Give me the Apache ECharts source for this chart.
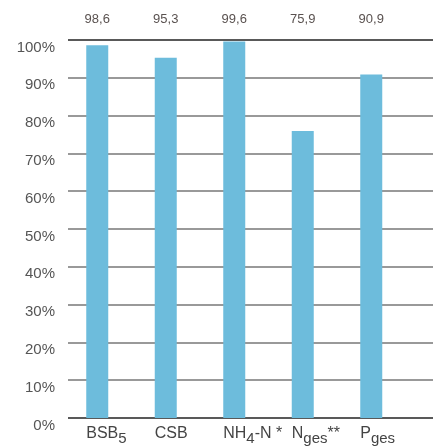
<!DOCTYPE html>
<html>
<head>
<meta charset="utf-8">
<script src="https://cdn.jsdelivr.net/npm/echarts@6/dist/echarts.min.js"></script>
<style>
  html, body { margin: 0; padding: 0; background: #fff; }
  #chart { width: 433px; height: 447px; }
</style>
</head>
<body>
<div id="chart"></div>
<script>
  // Kategorien (rich text für Indizes)
  var categories = ['{a|BSB}{s|5}', '{a|CSB}', '{a|NH}{s|4}{a|-N *}', '{a|N}{s|ges}{a|**}', '{a|P}{s|ges}'];
  var values = [98.6, 95.3, 99.6, 75.9, 90.9];
  var valueLabels = values.map(function (v) { return v.toFixed(1).replace('.', ','); });
  var yTicks = [0, 10, 20, 30, 40, 50, 60, 70, 80, 90, 100];

  var chart = echarts.init(document.getElementById('chart'));

  var rich = {
    a: { fontSize: 16, color: '#444', fontFamily: 'Liberation Sans', lineHeight: 22, verticalAlign: 'top', padding: [2, 0, 0, 0] },
    s: { fontSize: 15, color: '#444', fontFamily: 'Liberation Sans', lineHeight: 22, verticalAlign: 'top', padding: [7, 0, 0, 0] }
  };

  chart.setOption({
    animation: false,
    grid: [
      { left: 68, right: 0, top: 40, bottom: 29 },
      { left: 63, right: 27.5, top: 40, bottom: 29 }
    ],
    xAxis: [
      { gridIndex: 0, type: 'category', data: categories, show: false },
      { gridIndex: 1, type: 'category', data: categories, show: false },
      {
        gridIndex: 1, type: 'category', position: 'top', data: valueLabels,
        axisLine: { show: false }, axisTick: { show: false },
        axisLabel: { margin: 14, fontSize: 13, color: '#5a5250', fontFamily: 'Liberation Sans' }
      }
    ],
    yAxis: [
      {
        gridIndex: 0, type: 'value', min: 0, max: 100, interval: 10,
        axisLine: { show: false }, axisTick: { show: false },
        axisLabel: {
          margin: 13, fontSize: 15, color: '#555', fontFamily: 'Liberation Sans', verticalAlign: 'top',
          formatter: function (v) { return v + '%'; }
        },
        splitLine: {
          lineStyle: {
            width: 1.5,
            color: yTicks.map(function (t) { return (t === 0 || t === 100) ? '#222' : '#777'; })
          }
        }
      },
      { gridIndex: 1, type: 'value', min: 0, max: 100, show: false }
    ],
    series: [{
      type: 'bar',
      xAxisIndex: 1,
      yAxisIndex: 1,
      data: values,
      barWidth: 22,
      itemStyle: { color: '#6dbcdc' },
      label: {
        show: true,
        position: 'bottom',
        distance: 6,
        align: 'left',
        offset: [-11, 0],
        formatter: function (p) { return p.name; },
        rich: rich
      }
    }]
  });
</script>
</body>
</html>
